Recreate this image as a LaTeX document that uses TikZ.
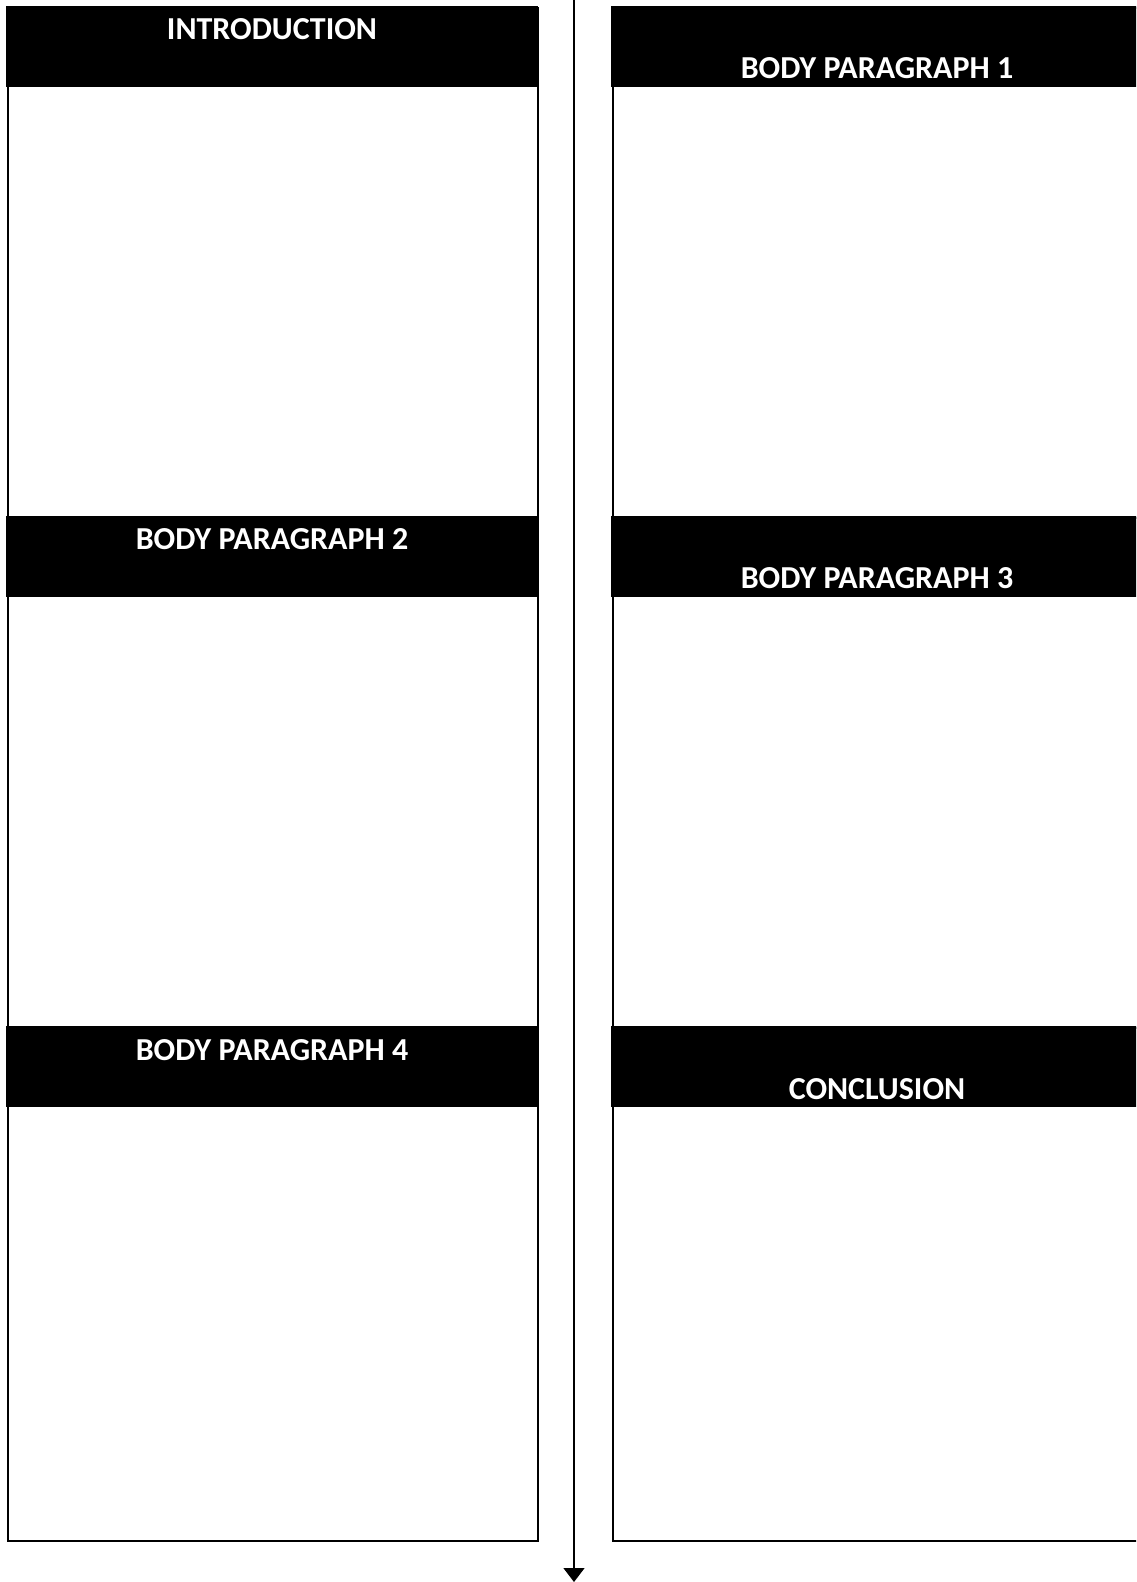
\documentclass[tikz,border=0pt]{standalone}
\usepackage{fontspec}
\setmainfont{Carlito}
\usetikzlibrary{arrows.meta,positioning}
\tikzset{
  panel/.style={draw, rectangle, line width=1.5pt, anchor=north west, minimum width=397.5pt, minimum height=382.5pt, inner sep=0pt},
  hbar/.style={fill=black, rectangle, anchor=north west, minimum width=399pt, minimum height=60.75pt, inner sep=0pt},
  htext/.style={text=white, font=\fontsize{24}{28}\selectfont\bfseries, anchor=base, inner sep=0pt},
  flow/.style={-{Triangle[width=15.75pt, length=10.5pt]}, line width=1pt},
}
\begin{document}
\begin{tikzpicture}[x=0.75pt, y=-0.75pt]
\useasboundingbox (0,0) rectangle (1136,1582);
\clip (0,0) rectangle (1136,1582);
\node[panel] (intro) at (7,7) {};
\node[panel] (bp2) at (7,517) {};
\node[panel, minimum height=384.75pt] (bp4) at (7,1027) {};
\node[panel] (bp1) at (612,7) {};
\node[panel] (bp3) at (612,517) {};
\node[panel, minimum height=384.75pt] (concl) at (612,1027) {};
\node[hbar] (intro-h) at (6,6) {};
\node[hbar] (bp2-h) at (6,516) {};
\node[hbar] (bp4-h) at (6,1026) {};
\node[hbar] (bp1-h) at (611,6) {};
\node[hbar] (bp3-h) at (611,516) {};
\node[hbar] (concl-h) at (611,1026) {};
\node[htext] (intro-t) at (272,39.5) {INTRODUCTION};
\node[htext] (bp2-t) at (272,549.5) {BODY PARAGRAPH 2};
\node[htext] (bp4-t) at (272,1060.5) {BODY PARAGRAPH 4};
\node[htext] (bp1-t) at (877,78) {BODY PARAGRAPH 1};
\node[htext] (bp3-t) at (877,588) {BODY PARAGRAPH 3};
\node[htext] (concl-t) at (877,1099) {CONCLUSION};
\coordinate (flowtop) at (574,0);
\coordinate (flowend) at (574,1582);
\draw[flow] (flowtop) -- (flowend);
\end{tikzpicture}
\end{document}
